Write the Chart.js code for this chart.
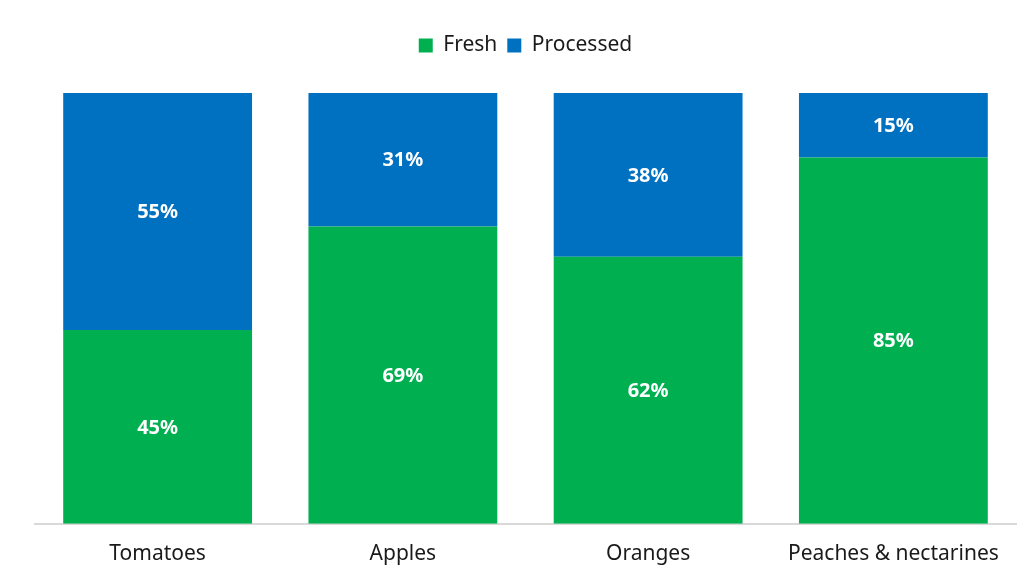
<!DOCTYPE html>
<html>
<head>
<meta charset="utf-8">
<script src="https://cdn.jsdelivr.net/npm/chart.js@4/dist/chart.umd.min.js"></script>
<style>
html,body{margin:0;padding:0;background:#fff;}
#wrap{width:1034px;height:579px;}
</style>
</head>
<body>
<div id="wrap"><canvas id="c" width="1034" height="579"></canvas></div>
<script>
const categories = ["Tomatoes", "Apples", "Oranges", "Peaches & nectarines"];
const fresh = [45, 69, 62, 85];
const processed = [55, 31, 38, 15];
const seriesNames = ["Fresh", "Processed"];

const FONT = "'Noto Sans', 'DejaVu Sans', sans-serif";

const legendSpacer = {
  id: 'legendSpacer',
  beforeInit(chart) {
    const orig = chart.legend.fit;
    chart.legend.fit = function() {
      orig.bind(chart.legend)();
      this.height += 27;
    };
  }
};

const barLabels = {
  id: 'barLabels',
  afterDatasetsDraw(chart) {
    const ctx = chart.ctx;
    ctx.save();
    ctx.fillStyle = '#ffffff';
    ctx.font = "bold 20px " + FONT;
    ctx.textAlign = 'center';
    ctx.textBaseline = 'middle';
    chart.data.datasets.forEach((ds, di) => {
      const meta = chart.getDatasetMeta(di);
      meta.data.forEach((bar, i) => {
        const p = bar.getProps(['x', 'y', 'base'], true);
        ctx.fillText(ds.data[i] + '%', p.x, (p.y + p.base) / 2 + 1);
      });
    });
    ctx.restore();
  }
};

new Chart(document.getElementById('c'), {
  type: 'bar',
  data: {
    labels: categories,
    datasets: [
      { label: seriesNames[0], data: fresh, backgroundColor: '#00b050', barPercentage: 0.77, categoryPercentage: 1 },
      { label: seriesNames[1], data: processed, backgroundColor: '#0070c0', barPercentage: 0.77, categoryPercentage: 1 }
    ]
  },
  options: {
    responsive: false,
    animation: false,
    events: [],
    layout: { padding: { top: 25, left: 35, right: 18, bottom: 2 } },
    plugins: {
      legend: {
        display: true,
        position: 'top',
        labels: {
          boxWidth: 14,
          boxHeight: 14,
          padding: 10,
          color: '#1a1a1a',
          font: { family: FONT, size: 21 }
        }
      },
      tooltip: { enabled: false }
    },
    scales: {
      x: {
        stacked: true,
        grid: { display: false },
        border: { display: true, color: '#d9d9d9', width: 2 },
        ticks: { color: '#1a1a1a', font: { family: FONT, size: 21 }, padding: 10, maxRotation: 0 }
      },
      y: {
        stacked: true,
        display: false,
        min: 0,
        max: 100
      }
    }
  },
  plugins: [legendSpacer, barLabels]
});
</script>
</body>
</html>
